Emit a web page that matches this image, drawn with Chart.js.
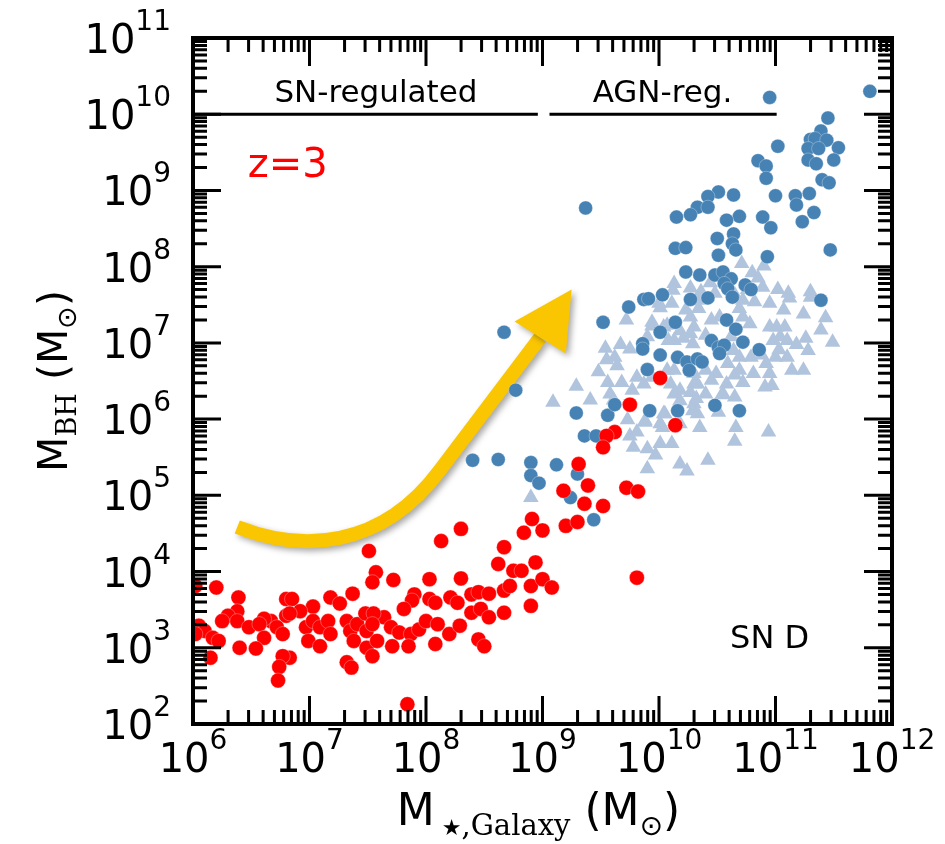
<!DOCTYPE html>
<html>
<head>
<meta charset="utf-8">
<script src="https://cdn.jsdelivr.net/npm/chart.js@4.4.0/dist/chart.umd.min.js"></script>
<style>
  body { margin: 0; background: #fff; }
  canvas { display: block; }
</style>
</head>
<body>
<canvas id="chart" width="945" height="844"></canvas>
<script>
// values, as log10 of the masses (M_sun)
var redLogMstar = [6.02,6.20,6.39,6.80,6.85,7.18,7.37,7.51,7.57,7.54, 7.26,7.03,6.92,6.80,6.67,6.61,6.38,6.30,6.25,6.05,
    6.10,6.02,6.17,6.22,6.38,6.48,6.57,6.61,6.72,6.77, 6.83,6.97,7.03,7.09,7.16,7.18,6.99,7.09,7.32,7.35,
    7.41,7.48,7.49,7.38,7.49,6.40,6.54,6.15,6.83,6.77, 6.74,6.73,7.32,7.36, 8.30,8.13,7.72,8.03,8.30,7.90,
    7.88,7.81,8.03,8.08,8.21,8.27,8.39,8.45,8.54,8.39, 8.47,8.54,8.67,8.67,8.72,8.75,8.82,8.62,8.67,8.94,
    8.90,9.00,9.08,8.90,8.84,8.91,9.00,9.18,9.20,7.64, 7.55,7.54,7.70,7.77,7.87,7.94,8.00,8.10,8.20,8.08,
    7.85,7.71,7.58,7.54,8.29,8.45,8.50,7.84, 10.01,9.75,10.14,9.62,9.55,9.52,9.31,9.39,9.36,9.52,9.30,9.72,9.82,9.81];
var redLogMbh = [3.81,3.79,3.66,3.64,3.64,3.66,3.71,4.27,3.99,3.86, 3.58,3.54,3.48,3.42,3.35,3.38,3.48,3.42,3.35,3.29,
    3.22,3.18,3.13,3.09,3.35,3.27,3.31,3.13,3.27,3.18, 3.45,3.27,3.35,3.27,3.35,3.18,3.09,3.02,3.35,3.22,
    3.31,3.45,3.22,3.09,3.00,3.00,2.99,2.87,2.87,2.89, 2.75,2.57,2.81,2.74, 4.56,4.40,3.89,3.90,3.91,3.70,
    3.62,3.51,3.64,3.59,3.66,3.59,3.70,3.73,3.71,3.46, 3.51,3.40,3.46,3.75,3.81,4.01,4.01,4.10,4.32,4.12,
    3.81,3.90,3.79,3.55,4.51,4.69,4.54,5.06,4.60,3.40, 3.45,3.31,3.27,3.20,3.18,3.24,3.35,3.31,3.18,3.05,
    3.02,3.02,3.09,2.89,3.29,3.11,3.02,2.26, 6.54,6.19,5.92,5.83,5.78,5.63,5.41,5.13,4.89,4.86,4.65,5.10,5.05,3.92];

var blueLogMstar = [8.67,8.77,8.62,8.90,8.90,8.97,9.12,9.30,9.24,9.44, 9.29,9.36,9.46,9.56,9.62,9.92,10.16,9.52,9.74,9.87,
    9.91,10.03,10.23,10.27,9.86,9.86,10.01,10.14,10.01,9.90, 10.16,10.24,10.26,10.33,10.95,11.45,11.39,11.30,11.34,11.44,
    11.28,11.37,11.54,11.02,11.28,11.35,11.50,10.85,10.92,10.92, 11.40,11.46,10.51,10.42,10.64,11.00,11.17,11.18,11.29,11.33,
    11.23,10.33,10.42,10.27,10.15,10.69,10.58,10.89,10.96,10.64, 10.63,10.66,10.50,10.14,10.23,10.51,10.93,11.47,10.35,10.48,
    10.55,11.81,10.62,10.56,10.59,10.74,10.79,10.63,10.42,11.39, 10.58,10.66,10.72,10.86,10.45,10.51,10.56,10.52,10.37,10.48,
    10.69,9.37,8.40];
var blueLogMbh = [7.14,6.38,5.47,5.43,5.26,5.16,5.40,5.28,4.97,4.68, 6.08,5.78,5.78,6.05,6.19,6.11,6.11,7.27,7.47,7.57,
    7.58,7.63,7.93,7.57,6.99,6.92,7.14,7.27,6.84,6.65, 6.81,6.75,6.64,6.79,10.22,9.95,9.78,9.67,9.68,9.66,
    9.55,9.55,9.56,9.58,9.40,9.35,9.40,9.39,9.32,9.16, 9.14,9.10,8.98,8.92,8.94,8.93,8.93,8.81,8.96,8.71,
    8.59,8.78,8.78,8.68,8.65,8.66,8.61,8.65,8.51,8.43, 8.30,8.22,8.37,8.24,8.25,8.15,8.13,8.22,7.89,7.89,
    7.93,10.30,7.84,7.78,7.71,7.76,7.70,7.60,7.59,7.56, 7.30,7.18,7.01,6.91,7.03,6.94,6.97,6.86,6.75,6.18,
    6.11,8.77,5.46];

var paleLogMstar = [8.90,9.09,9.29,9.54,9.72,9.62,9.64,9.56,9.68,9.75, 9.81,9.87,9.77,9.58,9.75,9.81,9.88,9.78,9.90,10.01,
    10.04,10.11,10.13,9.94,10.04,10.13,10.18,10.27,10.23,10.30, 10.10,10.18,10.30,10.18,10.30,10.18,10.01,10.18,10.24,9.90,
    10.07,10.29,10.71,10.80,10.90,10.12,10.27,10.36,10.48,10.89, 11.11,11.30,11.30,10.00,10.34,10.45,10.52,10.72,10.82,10.95,
    11.07,11.24,10.07,10.27,10.40,10.69,10.72,10.78,10.95,11.01, 11.08,11.04,10.98,11.10,11.26,11.49,11.28,11.10,11.00,10.92,
    11.14,11.24,9.90,10.08,10.21,10.62,10.64,10.69,10.79,10.59, 10.69,10.81,10.95,9.94,10.13,10.30,10.40,10.49,10.33,10.45,
    10.58,10.72,10.91,10.97,10.13,10.27,10.32,10.40,10.55,10.65, 10.29,10.33,10.51,10.05,9.88,10.03,10.35,10.66,10.94,10.65,
    10.11,10.42, 9.48,9.55,9.67,9.94,10.01,10.35,10.44,10.65,10.76,10.85, 11.02,11.12,11.43,11.39,11.18,11.03,10.88,10.65,10.54,9.97,
    9.73,9.61,9.41];
var paleLogMbh = [4.97,6.22,6.43,6.93,7.30,6.81,6.70,6.48,6.48,6.92, 6.55,6.46,6.38,6.33,5.78,5.83,5.98,5.63,5.61,5.68,
    6.07,7.52,7.78,7.27,7.21,7.03,7.16,7.34,7.43,7.21, 6.46,6.38,6.46,6.24,6.20,5.94,5.94,5.41,5.32,5.35,
    6.64,6.99,8.04,7.92,8.01,7.69,7.72,7.67,7.65,7.73, 7.65,7.67,7.60,7.52,7.45,7.30,7.34,7.56,7.54,7.52,
    7.43,7.38,7.23,7.12,7.10,7.45,7.34,7.25,7.21,7.21, 7.21,7.08,7.03,7.03,7.06,7.01,6.90,6.81,6.81,6.73,
    6.64,6.64,7.08,7.03,7.06,7.08,6.90,6.81,6.81,6.73, 6.64,6.60,6.60,6.55,6.64,6.60,6.64,6.60,6.46,6.51,
    6.46,6.48,6.42,6.44,6.33,6.35,6.27,6.33,6.33,6.29, 6.11,6.07,6.09,6.07,5.96,5.89,5.89,5.89,5.83,5.71,
    5.68,5.46, 6.62,6.78,6.98,7.22,7.46,7.56,7.79,7.63,7.70,7.85, 7.70,7.59,7.33,7.17,6.98,6.91,6.84,6.58,6.32,5.53,
    5.99,6.25,6.25];

var xTickExp = [6, 7, 8, 9, 10, 11, 12];
var yTickExp = [2, 3, 4, 5, 6, 7, 8, 9, 10, 11];

// annotation anchors, also in log10 units
var regimeLines = [[6.0, 8.96], [9.06, 11.01]];
var regimeLabels = [['SN-regulated', 7.57], ['AGN-reg.', 10.03]];
var arrowPath = [[6.38, 4.585], [6.92, 4.26], [7.61, 4.28], [8.12, 5.33], [8.98, 7.07]];
var arrowHead = [[9.25, 7.70], [8.76, 7.28], [9.20, 6.86]];

var SANS = 'DejaVu Sans';
var SERIF = 'DejaVu Serif';

function toPoints(lx, ly) {
    return lx.map(function (v, i) { return { x: Math.pow(10, v), y: Math.pow(10, ly[i]) }; });
}

function drawRuns(ctx, runs, x, y, align) {
    var w = 0;
    runs.forEach(function (r) { ctx.font = r.font; r.w = ctx.measureText(r.text).width; w += r.w; });
    var cx = align === 'center' ? x - w / 2 : (align === 'right' ? x - w : x);
    ctx.textAlign = 'left';
    ctx.textBaseline = 'alphabetic';
    runs.forEach(function (r) {
        ctx.font = r.font;
        ctx.fillText(r.text, cx, y + (r.dy || 0));
        cx += r.w;
    });
}

function powLabel(e) {
    return [{ text: '10', font: '40px ' + SANS }, { text: String(e), font: '28px ' + SANS, dy: -23 }];
}

var arrowPlugin = {
    id: 'arrow',
    beforeDatasetsDraw: function (chart) {
        var ctx = chart.ctx, xs = chart.scales.x, ys = chart.scales.y;
        function p(q) { return [xs.getPixelForValue(Math.pow(10, q[0])), ys.getPixelForValue(Math.pow(10, q[1]))]; }
        var pts = arrowPath.map(p), head = arrowHead.map(p);
        ctx.save();
        ctx.shadowColor = 'rgba(0,0,0,0.35)';
        ctx.shadowBlur = 6;
        ctx.shadowOffsetX = 3;
        ctx.shadowOffsetY = 3;
        ctx.strokeStyle = '#fac602';
        ctx.fillStyle = '#fac602';
        ctx.lineWidth = 14;
        ctx.beginPath();
        ctx.moveTo(pts[0][0], pts[0][1]);
        ctx.bezierCurveTo(pts[1][0], pts[1][1], pts[2][0], pts[2][1], pts[3][0], pts[3][1]);
        ctx.lineTo(pts[4][0], pts[4][1]);
        ctx.stroke();
        ctx.beginPath();
        ctx.moveTo(head[0][0], head[0][1]);
        ctx.lineTo(head[1][0], head[1][1]);
        ctx.lineTo(head[2][0], head[2][1]);
        ctx.closePath();
        ctx.fill();
        ctx.restore();
    }
};

var framePlugin = {
    id: 'frame',
    afterDatasetsDraw: function (chart) {
        var ctx = chart.ctx, a = chart.chartArea, xs = chart.scales.x, ys = chart.scales.y;
        ctx.save();
        ctx.strokeStyle = '#000';
        ctx.fillStyle = '#000';
        ctx.lineWidth = 3;
        ctx.beginPath();
        // ticks on all four sides, pointing in
        for (var d = 6; d < 12; d++) {
            for (var m = 1; m < 10; m++) {
                var px = xs.getPixelForValue(m * Math.pow(10, d));
                var len = m === 1 ? 28 : 14;
                ctx.moveTo(px, a.bottom); ctx.lineTo(px, a.bottom - len);
                ctx.moveTo(px, a.top); ctx.lineTo(px, a.top + len);
            }
        }
        for (d = 2; d < 11; d++) {
            for (m = 1; m < 10; m++) {
                var py = ys.getPixelForValue(m * Math.pow(10, d));
                len = m === 1 ? 28 : 14;
                ctx.moveTo(a.left, py); ctx.lineTo(a.left + len, py);
                ctx.moveTo(a.right, py); ctx.lineTo(a.right - len, py);
            }
        }
        ctx.stroke();
        ctx.lineWidth = 4;
        ctx.strokeRect(a.left, a.top, a.right - a.left, a.bottom - a.top);

        // tick labels
        xTickExp.forEach(function (e) {
            drawRuns(ctx, powLabel(e), xs.getPixelForValue(Math.pow(10, e)), a.bottom + 48, 'center');
        });
        yTickExp.forEach(function (e) {
            drawRuns(ctx, powLabel(e), a.left - 22, ys.getPixelForValue(Math.pow(10, e)) + 15, 'right');
        });

        // axis titles
        drawRuns(ctx, [
            { text: 'M', font: '44px ' + SANS },
            { text: ' \u2605', font: '22px ' + SANS, dy: 10 },
            { text: ',Galaxy', font: '29px ' + SERIF, dy: 10 },
            { text: ' (M', font: '44px ' + SANS },
            { text: '\u2299', font: '28px ' + SANS, dy: 10 },
            { text: ')', font: '44px ' + SANS }
        ], (a.left + a.right) / 2 - 4, a.bottom + 101, 'center');
        ctx.save();
        ctx.translate(67, (a.top + a.bottom) / 2);
        ctx.rotate(-Math.PI / 2);
        drawRuns(ctx, [
            { text: 'M', font: '41px ' + SANS },
            { text: 'BH', font: '27px ' + SERIF, dy: 9 },
            { text: ' (M', font: '41px ' + SANS },
            { text: '\u2299', font: '27px ' + SANS, dy: 9 },
            { text: ')', font: '41px ' + SANS }
        ], 0, 0, 'center');
        ctx.restore();

        // regime lines and labels
        var yLine = ys.getPixelForValue(1e10);
        ctx.lineWidth = 3;
        ctx.beginPath();
        regimeLines.forEach(function (r) {
            ctx.moveTo(xs.getPixelForValue(Math.pow(10, r[0])), yLine);
            ctx.lineTo(xs.getPixelForValue(Math.pow(10, r[1])), yLine);
        });
        ctx.stroke();
        regimeLabels.forEach(function (r) {
            drawRuns(ctx, [{ text: r[0], font: '31px ' + SANS }], xs.getPixelForValue(Math.pow(10, r[1])), yLine - 12, 'center');
        });

        ctx.fillStyle = '#ff0000';
        drawRuns(ctx, [{ text: 'z=3', font: '40px ' + SANS }], xs.getPixelForValue(Math.pow(10, 6.47)), ys.getPixelForValue(Math.pow(10, 9.18)), 'left');
        ctx.fillStyle = '#000';
        drawRuns(ctx, [{ text: 'SN D', font: '32px ' + SANS }], xs.getPixelForValue(Math.pow(10, 10.61)), ys.getPixelForValue(1e3), 'left');
        ctx.restore();
    }
};

new Chart(document.getElementById('chart'), {
    type: 'scatter',
    data: {
        datasets: [
            {
                label: 'SN-regulated BHs',
                data: toPoints(redLogMstar, redLogMbh),
                pointStyle: 'circle',
                pointRadius: 7.5,
                backgroundColor: '#ff0000',
                borderColor: 'rgba(255,255,255,0.6)',
                borderWidth: 0.5
            },
            {
                label: 'massive BHs',
                data: toPoints(blueLogMstar, blueLogMbh),
                pointStyle: 'circle',
                pointRadius: 7,
                backgroundColor: '#4682b4',
                borderColor: 'rgba(255,255,255,0.6)',
                borderWidth: 0.5
            },
            {
                label: 'other BHs',
                data: toPoints(paleLogMstar, paleLogMbh),
                pointStyle: 'triangle',
                pointRadius: 9,
                backgroundColor: '#b0c4de',
                borderWidth: 0
            }
        ]
    },
    options: {
        responsive: false,
        animation: false,
        devicePixelRatio: 1,
        events: [],
        layout: { padding: { left: 193, right: 53, top: 38, bottom: 120 } },
        plugins: { legend: { display: false }, tooltip: { enabled: false } },
        scales: {
            x: { type: 'logarithmic', min: 1e6, max: 1e12, display: false },
            y: { type: 'logarithmic', min: 1e2, max: 1e11, display: false }
        }
    },
    plugins: [arrowPlugin, framePlugin]
});
</script>
</body>
</html>
